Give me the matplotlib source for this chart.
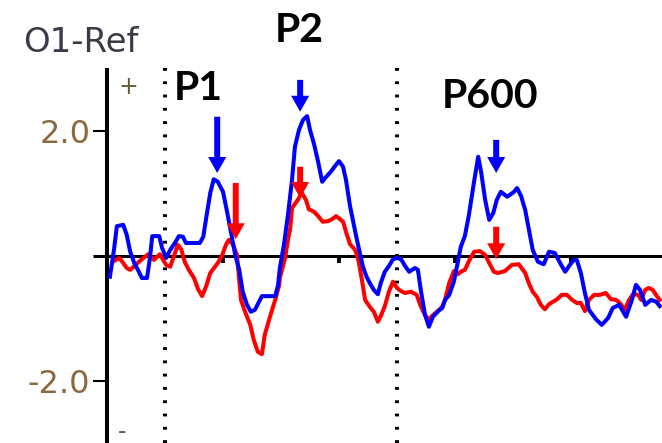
import numpy as np
import matplotlib
matplotlib.use('Agg')
import matplotlib.pyplot as plt

# O1-Ref channel, time in ms (stimulus at 0), amplitude in uV
t_blue = [-95, -88, -83, -72, -66, -60, -53, -45, -40, -31, -26, -22, -10, -5, 2, 9, 17, 24,
          31, 36, 60, 66, 71, 78, 84, 91, 100, 107, 114, 121, 128, 134, 141, 148, 155, 160,
          167, 190, 195, 198, 205, 212, 219, 224, 231, 238, 245, 250, 257, 264, 271, 278,
          286, 293, 300, 307, 312, 319, 328, 334, 341, 347, 353, 360, 367, 372, 379, 386,
          393, 400, 407, 414, 421, 431, 436, 441, 448, 455, 462, 471, 478, 483, 490, 498,
          505, 510, 517, 524, 533, 540, 545, 552, 559, 566, 572, 579, 590, 602, 607, 614,
          621, 628, 634, 643, 653, 662, 672, 683, 690, 698, 705, 710, 717, 724, 731, 743,
          753, 764, 772, 783, 795, 805, 812, 819, 828, 838, 847, 853]
v_blue = [-0.34, 0.09, 0.47, 0.49, 0.33, 0.06, -0.12, -0.26, -0.36, -0.36, -0.04, 0.31, 0.31,
          0.12, -0.04, 0.09, 0.20, 0.31, 0.30, 0.20, 0.20, 0.30, 0.60, 1.00, 1.22, 1.18, 1.02,
          0.70, 0.36, 0.01, -0.23, -0.58, -0.78, -0.90, -0.87, -0.78, -0.65, -0.65, -0.47,
          -0.20, 0.17, 0.65, 1.21, 1.74, 2.01, 2.17, 2.23, 2.01, 1.78, 1.50, 1.18, 1.26, 1.34,
          1.43, 1.51, 1.42, 1.21, 0.79, 0.38, 0.12, -0.17, -0.33, -0.44, -0.55, -0.62, -0.44,
          -0.26, -0.17, -0.06, -0.04, -0.06, -0.17, -0.26, -0.20, -0.23, -0.55, -0.94, -1.14,
          -0.98, -0.89, -0.84, -0.71, -0.63, -0.42, -0.10, 0.14, 0.31, 0.65, 1.19, 1.58, 1.34,
          0.89, 0.57, 0.68, 0.89, 1.02, 0.94, 1.02, 1.08, 0.95, 0.73, 0.39, 0.09, -0.10, -0.14,
          0.06, 0.04, -0.15, -0.26, -0.15, -0.07, -0.07, -0.28, -0.60, -0.87, -1.02, -1.11,
          -1.00, -0.84, -0.79, -0.98, -0.71, -0.47, -0.55, -0.79, -0.71, -0.74, -0.81]

t_red = [-90, -79, -72, -66, -60, -53, -47, -40, -29, -19, -9, 2, 9, 16, 22, 28, 34, 41, 50,
         57, 64, 71, 78, 86, 91, 98, 105, 110, 117, 124, 131, 138, 147, 153, 160, 167, 172,
         181, 190, 197, 198, 207, 212, 216, 219, 229, 236, 243, 248, 257, 264, 272, 281, 288,
         295, 302, 307, 312, 319, 328, 334, 340, 345, 353, 360, 367, 372, 379, 386, 393, 400,
         407, 414, 424, 434, 440, 448, 455, 460, 469, 478, 483, 490, 498, 505, 510, 517, 524,
         533, 543, 552, 559, 567, 574, 586, 598, 610, 621, 628, 634, 641, 648, 655, 662, 669,
         676, 684, 693, 702, 710, 717, 724, 731, 740, 750, 760, 769, 778, 786, 793, 800, 807,
         816, 821, 828, 834, 841, 848, 853]
v_red = [-0.10, -0.04, -0.12, -0.20, -0.23, -0.17, -0.12, -0.06, 0.02, -0.07, 0.02, -0.15,
         -0.18, 0.01, 0.17, 0.10, -0.10, -0.23, -0.36, -0.54, -0.65, -0.49, -0.28, -0.18,
         -0.12, -0.01, 0.17, 0.25, 0.18, 0.01, -0.71, -0.90, -1.11, -1.35, -1.54, -1.58,
         -1.27, -0.98, -0.71, -0.47, -0.36, -0.04, 0.25, 0.44, 0.76, 0.89, 1.00, 0.89, 0.74,
         0.70, 0.63, 0.54, 0.55, 0.58, 0.63, 0.58, 0.54, 0.38, 0.18, 0.09, -0.10, -0.42,
         -0.71, -0.82, -0.90, -1.06, -0.97, -0.81, -0.58, -0.42, -0.52, -0.57, -0.60, -0.58,
         -0.63, -0.79, -0.95, -1.03, -0.97, -0.90, -0.82, -0.70, -0.44, -0.25, -0.30, -0.26,
         -0.23, -0.09, 0.06, 0.07, 0.01, -0.12, -0.26, -0.28, -0.25, -0.15, -0.14, -0.28,
         -0.46, -0.58, -0.66, -0.79, -0.86, -0.78, -0.74, -0.70, -0.63, -0.63, -0.71, -0.76,
         -0.76, -0.89, -0.71, -0.63, -0.63, -0.60, -0.70, -0.71, -0.78, -0.87, -0.71, -0.62,
         -0.63, -0.71, -0.55, -0.52, -0.55, -0.65, -0.71]

# peak markers: x, arrow tip, arrow tail
arrow_t = [90, 122, 233, 233, 571, 571]
arrow_tip = [1.32, 0.26, 2.30, 0.92, 1.32, -0.06]
arrow_tail = [2.22, 1.16, 2.81, 1.42, 1.85, 0.46]
arrow_color = ['#0000ff', '#ff0000', '#0000ff', '#ff0000', '#0000ff', '#ff0000']

peaks = ['P1', 'P2', 'P600']
peak_t = [15, 190, 478]
peak_v = [2.49, 3.42, 2.36]

onsets = [0, 400]
time_ticks = [100, 300, 500, 700]
amp_ticks = [2.0, -2.0]

fig = plt.figure(figsize=(6.62, 4.43), dpi=100)
ax = fig.add_axes([0, 0, 1, 1])
ax.set_xlim(-284.5, 856.9)
ax.set_ylim(-3.0, 4.088)
ax.axis('off')

# axes drawn by hand, EEG viewer style
ax.plot([-100, -100], [3.0, -3.1], color='black', lw=2.9, solid_capstyle='butt', zorder=3)
ax.plot([-124, 860], [0, 0], color='black', lw=2.2, solid_capstyle='butt', zorder=3)
for v in amp_ticks:
    ax.plot([-124, -100], [v, v], color='black', lw=1.5, solid_capstyle='butt', zorder=3)
    ax.text(-129, v - 0.2, '%.1f' % v, fontsize=23, family='DejaVu Sans',
            color='#8a6a3c', ha='right', va='baseline')
for t in time_ticks:
    ax.plot([t, t], [0, -0.12], color='black', lw=2.8, solid_capstyle='butt', zorder=3)
for t in onsets:
    ax.plot([t, t], [3.0, -3.1], color='black', lw=2.9, linestyle=(0, (0.7, 2.6)), zorder=3)

ax.text(-245, 3.26, 'O1-Ref', fontsize=24.5, family='DejaVu Sans', color='#3c3a48',
        ha='left', va='baseline')
ax.text(-64, 2.70, '+', fontsize=17, family='DejaVu Sans', color='#6a5a40',
        ha='center', va='center')
ax.text(-74, -2.82, '-', fontsize=17, family='DejaVu Sans', color='#6a5a40',
        ha='center', va='center')

ax.plot(t_red, v_red, color='#ff0000', lw=2.9, zorder=4)
ax.plot(t_blue, v_blue, color='#0000ff', lw=2.9, zorder=5)

for t, tip, tail, c in zip(arrow_t, arrow_tip, arrow_tail, arrow_color):
    ax.annotate('', xy=(t, tip), xytext=(t, tail), zorder=6,
                arrowprops=dict(facecolor=c, edgecolor='none', width=4.3,
                                headwidth=13, headlength=11.5, shrink=0))

for name, t, v in zip(peaks, peak_t, peak_v):
    ax.text(t, v, name, fontsize=29.5, family='Lato', fontweight='bold', color='black',
            ha='left', va='baseline')

fig.savefig('out.png', dpi=100)
